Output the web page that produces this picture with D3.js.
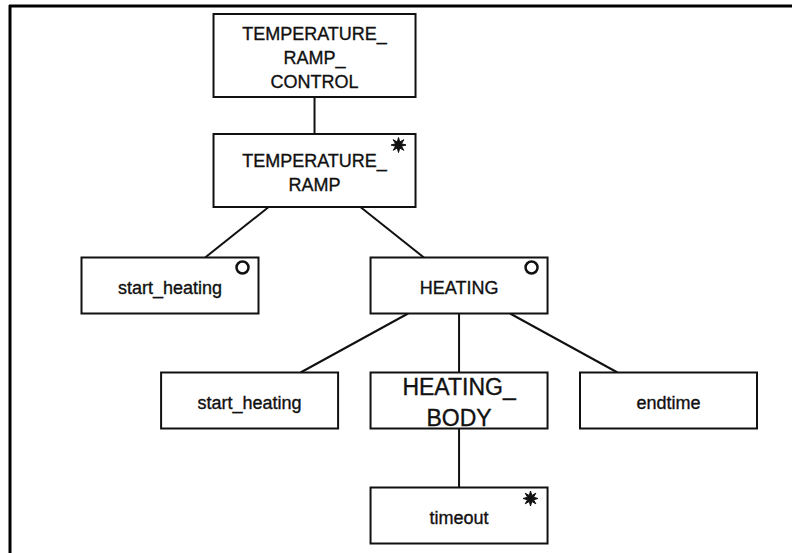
<!DOCTYPE html>
<html>
<head>
<meta charset="utf-8">
<style>
  body { margin: 0; background: #fff; }
  svg { display: block; }
  .box rect { fill: #fff; stroke: #111; stroke-width: 2; }
  .link { stroke: #111; stroke-width: 2; }
  .box text { font-family: "Liberation Sans", Arial, sans-serif; fill: #111; stroke: #111; stroke-width: 0.35; text-anchor: middle; }
</style>
</head>
<body>
<div class="chart"></div>

<script src="https://d3js.org/d3.v7.min.js"></script>
<script>
  // tree data
  const ids     = ["trc", "tr", "sh1", "heat", "sh2", "body", "end", "tout"];
  const parents = [null, "trc", "tr", "tr", "heat", "heat", "heat", "body"];
  const labels  = ["TEMPERATURE_|RAMP_|CONTROL", "TEMPERATURE_|RAMP", "start_heating", "HEATING",
                   "start_heating", "HEATING_|BODY", "endtime", "timeout"];
  const markers = ["", "*", "o", "o", "", "", "", "*"];

  function structureDiagram(){
    let width = 792,
        height = 553;

    const svg = d3.select(".chart")
                  .append("svg")
                  .attr("width", width)
                  .attr("height", height);

    // scanned page frame (top and left edges only)
    svg.append("line").attr("x1", 9).attr("y1", 6).attr("x2", width).attr("y2", 6)
       .attr("stroke", "#000").attr("stroke-width", 3);
    svg.append("line").attr("x1", 10).attr("y1", 5).attr("x2", 10).attr("y2", height)
       .attr("stroke", "#000").attr("stroke-width", 3);

    const table = ids.map((id, i) => ({id: id, parent: parents[i], label: labels[i], marker: markers[i]}));
    const root = d3.stratify().id(d => d.id).parentId(d => d.parent)(table);

    const tree = d3.tree()
                   .nodeSize([209.5, 115])
                   .separation((a, b) => (a.parent === b.parent && a.depth === 2) ? 1.38 : 1);
    tree(root);

    const nodes = root.descendants();

    const xScale = d3.scaleLinear()
                     .domain(d3.extent(nodes, d => d.x))
                     .range([170, 668.5]);
    const yScale = d3.scaleLinear()
                     .domain([0, 4])
                     .range([55.5, 515.5]);

    // box sizes by depth
    const boxW = d => d.depth < 2 ? 202 : 177;
    const boxH = d => [83, 73, 56, 56, 56][d.depth];
    const fontSize = d => d.data.id === "body" ? 23 : 18;

    // links: centre-to-centre line, clipped to parent bottom and child top
    svg.append("g")
       .selectAll("line")
       .data(root.links())
       .join("line")
       .attr("class", "link")
       .each(function(l) {
         let px = xScale(l.source.x), py = yScale(l.source.depth),
             cx = xScale(l.target.x), cy = yScale(l.target.depth);
         let y1 = py + boxH(l.source) / 2,
             y2 = cy - boxH(l.target) / 2;
         let at = y => px + (cx - px) * (y - py) / (cy - py);
         d3.select(this)
           .attr("x1", at(y1)).attr("y1", y1)
           .attr("x2", at(y2)).attr("y2", y2);
       });

    const box = svg.append("g")
                   .selectAll("g")
                   .data(nodes)
                   .join("g")
                   .attr("class", "box")
                   .attr("transform", d => `translate(${xScale(d.x)}, ${yScale(d.depth)})`);

    box.append("rect")
       .attr("x", d => -boxW(d) / 2)
       .attr("y", d => -boxH(d) / 2)
       .attr("width", boxW)
       .attr("height", boxH);

    box.append("text")
       .style("font-size", d => fontSize(d) + "px")
       .selectAll("tspan")
       .data(d => {
         let lines = d.data.label.split("|");
         let fs = fontSize(d), gap = fs * 1.35;
         return lines.map((t, i) => ({t: t, y: (i - (lines.length - 1) / 2) * gap + fs * 0.36 + 2}));
       })
       .join("tspan")
       .attr("x", 0)
       .attr("y", d => d.y)
       .text(d => d.t);

    // iteration / selection markers in the top right corner
    box.filter(d => d.data.marker === "o")
       .append("circle")
       .attr("cx", d => boxW(d) / 2 - 16)
       .attr("cy", d => -boxH(d) / 2 + 10)
       .attr("r", 6)
       .attr("fill", "#fff")
       .attr("stroke", "#111")
       .attr("stroke-width", 2.5);

    // spiky star for the "*" marker
    const spikes = d3.range(16).map(i => [i * Math.PI / 8, i % 2 ? 3.2 : 7.5]);
    box.filter(d => d.data.marker === "*")
       .append("path")
       .attr("transform", d => `translate(${boxW(d) / 2 - 17}, ${-boxH(d) / 2 + 11})`)
       .attr("d", d3.lineRadial().curve(d3.curveLinearClosed)(spikes))
       .attr("fill", "#111")
       .attr("stroke", "#111")
       .attr("stroke-width", 1);
  }

  structureDiagram()
</script>
</body>
</html>
